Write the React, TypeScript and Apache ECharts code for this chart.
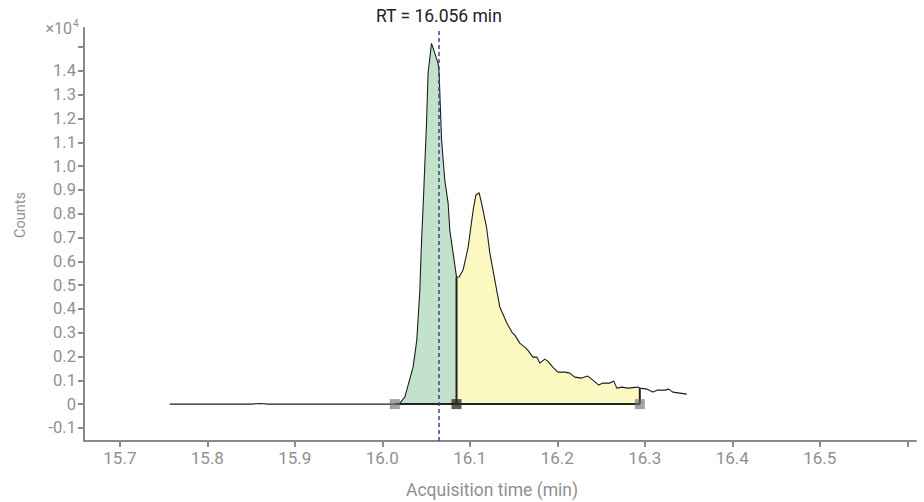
import React, { useEffect, useRef } from "react";
import * as echarts from "echarts";

// Acquisition time (min)
const times: number[] = [
  15.757, 15.8, 15.85, 15.86, 15.87, 15.95, 16.0, 16.0143,
  16.02, 16.0257, 16.0352, 16.0394, 16.0429, 16.0443, 16.0474, 16.0505, 16.0523,
  16.0562, 16.0638, 16.0649, 16.0677, 16.0714, 16.0752, 16.0771, 16.0809, 16.0848,
  16.0878, 16.0923, 16.0981, 16.1038, 16.1069, 16.1106, 16.1134, 16.1191, 16.1229,
  16.1286, 16.1343, 16.1423, 16.148, 16.1514, 16.1571, 16.1629, 16.1663, 16.172,
  16.1766, 16.18, 16.1857, 16.1891, 16.1949, 16.2006, 16.2086, 16.2143, 16.22,
  16.228, 16.2349, 16.2406, 16.2474, 16.252, 16.26, 16.2646, 16.268, 16.2737,
  16.2806, 16.292, 16.2943, 16.3023, 16.3091, 16.3149, 16.3229, 16.3274, 16.332,
  16.34, 16.348,
];

// Counts
const counts: number[] = [
  0, 0, 0, 25, 0, 0, 0, 0,
  42, 294, 1567, 2689, 4790, 6345, 8992, 11808, 13909,
  15157, 14316, 13909, 11093, 9413, 8446, 7312, 6345, 5337,
  5337, 5631, 6597, 8152, 8782, 8879, 8446, 7438, 6345,
  5210, 4076, 3404, 3025, 2899, 2563, 2395, 2269, 1975,
  1975, 1723, 1891, 1807, 1555, 1345, 1345, 1303, 1135,
  1093, 1177, 1008, 798, 882, 882, 966, 672, 714,
  672, 714, 672, 630, 504, 588, 588, 630, 504,
  462, 420,
];

// Integration boundaries (min)
const peakStart = 16.0143;
const peakSplit = 16.0848;
const peakEnd = 16.2943;

// Retention time marker
const rtLinePosition = 16.0646;
const rtLabel = "RT = 16.056 min";

// Axis ticks
const xTickValues: number[] = [15.7, 15.8, 15.9, 16.0, 16.1, 16.2, 16.3, 16.4, 16.5, 16.6];
const xLabelValues: number[] = [15.7, 15.8, 15.9, 16.0, 16.1, 16.2, 16.3, 16.4, 16.5];
const yTickValues: number[] = [-1000, 0, 1000, 2000, 3000, 4000, 5000, 6000, 7000, 8000, 9000, 10000, 11000, 12000, 13000, 14000, 15000];
const yLabelValues: number[] = [-1000, 0, 1000, 2000, 3000, 4000, 5000, 6000, 7000, 8000, 9000, 10000, 11000, 12000, 13000, 14000];

const FONT = "Roboto, 'Noto Sans', sans-serif";
const AXIS_GRAY = "#8a8a8e";
const LABEL_GRAY = "#8f8f93";

export default function App() {
  const ref = useRef<HTMLDivElement>(null);

  useEffect(() => {
    if (!ref.current) return;
    const chart = echarts.init(ref.current, undefined, { renderer: "svg" });

    const trace = times.map((t, i) => [t, counts[i]]);
    const greenData = trace.filter((p) => p[0] >= peakStart - 1e-9 && p[0] <= peakSplit + 1e-9);
    const yellowData = trace.filter((p) => p[0] >= peakSplit - 1e-9 && p[0] <= peakEnd + 1e-9);
    const valueAt = (t: number) => {
      const idx = times.findIndex((x) => Math.abs(x - t) < 1e-6);
      return idx >= 0 ? counts[idx] : 0;
    };

    const option: any = {
      animation: false,
      textStyle: { fontFamily: FONT },
      grid: { left: 84, right: 8, top: 28, bottom: 61 },
      xAxis: {
        type: "value",
        min: 15.659,
        max: 16.61,
        axisLine: { show: true, onZero: false, lineStyle: { color: AXIS_GRAY, width: 2 } },
        axisTick: { show: true, length: 6, customValues: xTickValues, lineStyle: { color: AXIS_GRAY, width: 2 } },
        axisLabel: {
          customValues: xLabelValues,
          color: LABEL_GRAY,
          fontSize: 17,
          fontFamily: FONT,
          margin: 8,
          formatter: (v: number) => v.toFixed(1),
        },
        splitLine: { show: false },
      },
      yAxis: {
        type: "value",
        min: -1550,
        max: 15800,
        axisLine: { show: true, onZero: false, lineStyle: { color: AXIS_GRAY, width: 2 } },
        axisTick: { show: true, length: 6, customValues: yTickValues, lineStyle: { color: AXIS_GRAY, width: 2 } },
        axisLabel: {
          customValues: yLabelValues,
          color: LABEL_GRAY,
          fontSize: 16.5,
          fontFamily: FONT,
          margin: 8,
          formatter: (v: number) => (Math.abs(v) < 1e-9 ? "0" : (v / 10000).toFixed(1)),
        },
        splitLine: { show: false },
      },
      graphic: [
        {
          type: "text",
          x: 72,
          y: 28,
          style: {
            text: "×10",
            fill: LABEL_GRAY,
            font: `16px ${FONT}`,
            align: "right",
            verticalAlign: "middle",
          },
        },
        {
          type: "text",
          x: 73,
          y: 18,
          style: {
            text: "4",
            fill: LABEL_GRAY,
            font: `10px ${FONT}`,
            align: "left",
            verticalAlign: "top",
          },
        },
        {
          type: "text",
          x: 20,
          y: 215,
          rotation: Math.PI / 2,
          style: {
            text: "Counts",
            fill: LABEL_GRAY,
            font: `14.5px ${FONT}`,
            align: "center",
            verticalAlign: "middle",
          },
        },
        {
          type: "text",
          x: 492,
          y: 490,
          style: {
            text: "Acquisition time (min)",
            fill: LABEL_GRAY,
            font: `17.5px ${FONT}`,
            align: "center",
            verticalAlign: "middle",
          },
        },
      ],
      series: [
        {
          name: "peak1",
          type: "line",
          data: greenData,
          showSymbol: false,
          symbol: "none",
          lineStyle: { width: 0 },
          areaStyle: { color: "#c3e2cb", opacity: 1 },
          z: 1,
          silent: true,
        },
        {
          name: "peak2",
          type: "line",
          data: yellowData,
          showSymbol: false,
          symbol: "none",
          lineStyle: { width: 0 },
          areaStyle: { color: "#fbf8c2", opacity: 1 },
          z: 1,
          silent: true,
        },
        {
          name: "trace",
          type: "line",
          data: trace,
          showSymbol: false,
          symbol: "none",
          lineStyle: { color: "#1e1e1e", width: 1.1 },
          z: 3,
          silent: true,
          markLine: {
            silent: true,
            symbol: "none",
            precision: 4,
            lineStyle: { color: "#3f4194", type: [4, 3], width: 1.5 },
            label: {
              show: true,
              position: "end",
              formatter: rtLabel,
              color: "#222222",
              fontSize: 17.5,
              fontFamily: FONT,
              distance: 3,
            },
            data: [{ xAxis: rtLinePosition }],
          },
        },
        {
          name: "baseline",
          type: "line",
          data: [[peakStart, 0], [peakEnd, 0]],
          showSymbol: false,
          symbol: "none",
          lineStyle: { color: "#222222", width: 2 },
          z: 4,
          silent: true,
        },
        {
          name: "split",
          type: "line",
          data: [[peakSplit, 0], [peakSplit, valueAt(peakSplit)]],
          showSymbol: false,
          symbol: "none",
          lineStyle: { color: "#222222", width: 2 },
          z: 4,
          silent: true,
        },
        {
          name: "end",
          type: "line",
          data: [[peakEnd, 0], [peakEnd, valueAt(peakEnd)]],
          showSymbol: false,
          symbol: "none",
          lineStyle: { color: "#222222", width: 2 },
          z: 4,
          silent: true,
        },
        {
          name: "boundaryMarkers",
          type: "scatter",
          data: [[peakStart, 0], [peakEnd, 0]],
          symbol: "rect",
          symbolSize: 10,
          itemStyle: { color: "rgba(110,110,110,0.8)" },
          z: 5,
          silent: true,
        },
        {
          name: "splitMarker",
          type: "scatter",
          data: [[peakSplit, 0]],
          symbol: "rect",
          symbolSize: 10,
          itemStyle: { color: "rgba(40,40,40,0.95)" },
          z: 5,
          silent: true,
        },
      ],
    };

    chart.setOption(option);
    return () => chart.dispose();
  }, []);

  return (
    <div
      ref={ref}
      style={{ position: "fixed", left: 0, top: 0, width: 924, height: 502, background: "#ffffff" }}
    />
  );
}
